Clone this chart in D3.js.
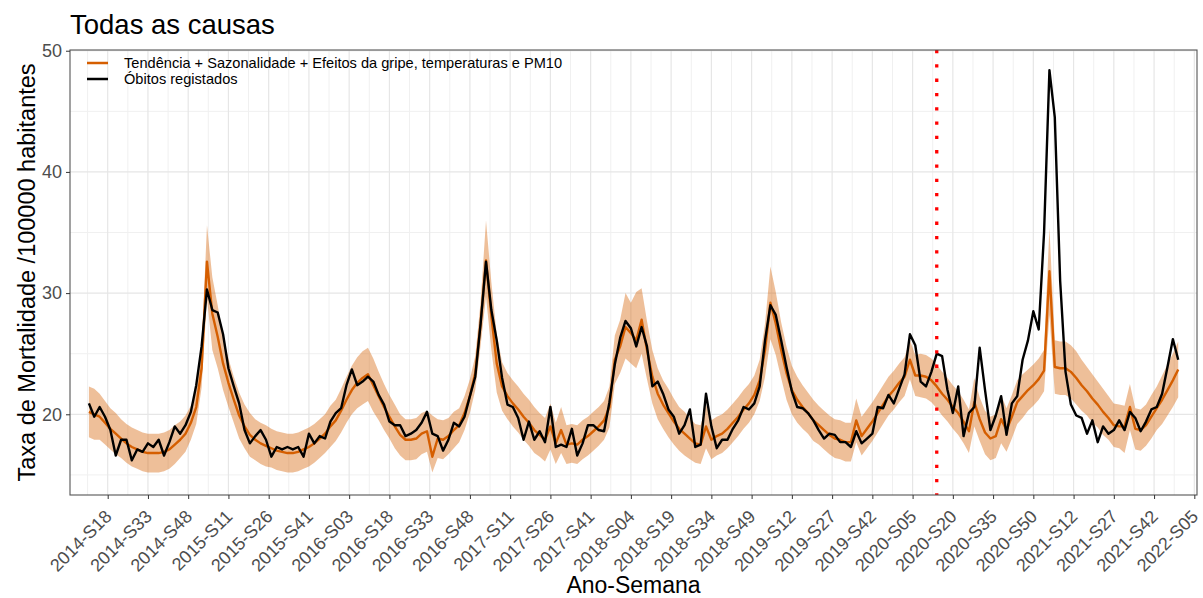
<!DOCTYPE html>
<html>
<head>
<meta charset="utf-8">
<script src="https://cdn.jsdelivr.net/npm/d3@7"></script>
<style>
  body { margin: 0; background: #fff; }
  text { font-family: "Liberation Sans", Arial, sans-serif; }
</style>
</head>
<body>
<svg id="chart" width="1203" height="598"></svg>
<script>
// x tick labels, one every 15 weeks (week index 0 = 2014-S18)
const tickLabels = ["2014-S18","2014-S33","2014-S48","2015-S11","2015-S26","2015-S41","2016-S03",
  "2016-S18","2016-S33","2016-S48","2017-S11","2017-S26","2017-S41","2018-S04","2018-S19","2018-S34",
  "2018-S49","2019-S12","2019-S27","2019-S42","2020-S05","2020-S20","2020-S35","2020-S50","2021-S12",
  "2021-S27","2021-S42","2022-S05"];
const tickEvery = 15;

// series sampled every 2 weeks, starting 7 weeks before 2014-S18
const firstWeek = -7, weekStep = 2;

const observed = [
  20.9,19.8,20.6,19.8,18.7,16.6,17.9,17.9,16.2,17.1,
  16.9,17.6,17.3,17.9,16.6,17.7,19.0,18.4,19.1,20.2,
  22.4,25.6,30.3,28.6,28.4,26.6,23.8,22.3,20.9,18.7,
  17.6,18.2,18.7,17.9,16.5,17.3,17.1,17.3,17.1,17.3,
  16.5,18.4,17.6,18.2,18.0,19.4,20.1,20.5,22.4,23.7,
  22.4,22.7,23.1,22.7,21.6,20.8,19.4,19.1,19.1,18.2,
  18.4,18.7,19.3,20.2,18.4,18.2,17.0,17.9,19.3,19.0,
  19.8,21.5,23.1,27.5,32.6,28.6,26.1,23.0,20.8,20.6,
  19.7,17.9,19.4,17.9,18.6,17.7,20.6,17.3,17.5,17.3,
  18.8,16.6,17.6,19.1,19.1,18.7,18.6,21.0,24.1,26.3,
  27.7,27.1,25.6,27.2,25.6,22.3,22.7,21.7,20.4,19.8,
  18.4,19.1,20.4,17.3,17.5,21.7,19.0,17.2,17.9,17.9,
  18.8,19.5,20.6,20.4,20.9,22.3,26.1,29.0,28.2,26.1,
  23.9,21.9,20.6,20.5,20.1,19.5,18.7,18.0,18.4,18.3,
  17.7,17.7,17.3,18.6,17.6,18.0,18.4,20.6,20.5,21.6,
  20.9,22.1,23.3,26.6,25.7,22.7,22.3,23.5,25.0,24.8,
  22.0,20.1,22.3,18.2,20.1,20.6,25.5,22.0,18.7,19.9,
  21.5,18.3,20.9,21.5,24.5,26.1,28.5,27.0,35.0,48.4,
  44.5,31.0,23.5,20.8,19.9,19.7,18.4,19.5,17.7,19.0,
  18.4,18.7,19.5,18.7,20.2,19.7,18.6,19.4,20.4,20.6,
  21.7,23.9,26.2,24.5
];

const fitted = [
  20.2,20.0,19.8,19.3,18.8,18.4,18.0,17.6,17.3,17.1,
  16.9,16.8,16.8,16.8,16.9,17.1,17.5,17.9,18.4,19.3,
  20.6,23.8,32.6,28.3,26.4,24.2,22.6,21.2,19.9,19.0,
  18.3,17.9,17.6,17.4,17.2,17.0,16.9,16.8,16.8,16.9,
  17.1,17.3,17.6,18.0,18.4,19.0,19.5,20.3,21.2,22.0,
  22.6,23.0,23.3,22.4,21.5,20.6,19.8,19.0,18.3,17.9,
  17.9,18.0,18.4,18.6,16.5,18.0,17.9,18.2,18.7,19.1,
  20.1,21.5,23.4,27.5,32.7,28.1,24.2,22.3,21.5,20.9,
  20.4,19.8,19.3,18.7,18.3,17.9,19.0,17.6,18.7,17.5,
  17.6,17.5,17.9,18.2,18.6,19.0,19.5,20.6,24.5,25.6,
  27.2,26.7,26.1,27.8,25.3,23.1,21.7,20.8,20.1,19.4,
  18.8,18.4,18.0,17.6,17.5,19.0,17.9,18.2,18.4,18.8,
  19.3,19.8,20.4,20.9,21.6,22.8,25.3,29.2,27.5,25.3,
  23.4,22.0,21.2,20.6,20.1,19.5,19.1,18.7,18.3,18.0,
  17.9,17.7,17.7,19.5,18.2,18.8,19.4,20.1,20.8,21.5,
  22.0,22.6,23.1,24.5,23.2,23.2,23.1,22.8,22.3,21.7,
  21.2,20.6,20.1,19.4,18.6,21.0,19.6,18.5,18.0,18.2,
  19.6,18.7,19.8,21.0,21.5,22.0,22.4,22.9,23.6,31.8,
  23.9,23.8,23.8,23.5,23.0,22.4,21.9,21.3,20.8,20.2,
  19.7,19.1,19.0,19.0,20.6,18.8,18.7,19.1,19.8,20.5,
  21.2,22.0,22.8,23.7
];

const bandLow = [
  18.1,17.9,17.9,17.5,17.1,16.7,16.4,16.0,15.7,15.5,
  15.3,15.2,15.2,15.2,15.3,15.5,15.9,16.4,16.9,17.9,
  19.2,22.2,29.6,25.3,23.8,22.0,20.6,19.3,18.0,17.2,
  16.5,16.2,15.9,15.7,15.6,15.4,15.3,15.2,15.2,15.3,
  15.5,15.7,16.0,16.4,16.8,17.3,17.8,18.5,19.3,20.0,
  20.5,20.8,21.1,20.2,19.5,18.7,18.0,17.2,16.6,16.2,
  16.2,16.3,16.7,16.9,15.2,16.4,16.3,16.7,17.2,17.7,
  18.7,20.1,22.0,25.7,29.7,25.3,21.8,20.3,19.6,19.0,
  18.5,17.9,17.4,16.8,16.5,16.1,17.1,15.9,16.8,15.9,
  16.0,15.9,16.3,16.6,17.0,17.4,17.9,18.9,22.5,23.4,
  24.6,24.2,23.8,25.0,22.9,20.9,19.6,18.8,18.1,17.5,
  17.0,16.6,16.3,16.0,15.9,17.2,16.3,16.6,16.8,17.2,
  17.7,18.2,18.8,19.3,20.0,21.1,23.1,26.2,24.9,23.0,
  21.2,20.0,19.3,18.8,18.4,17.8,17.5,17.1,16.7,16.4,
  16.3,16.1,16.1,17.7,16.6,17.2,17.8,18.5,19.2,19.9,
  20.4,21.0,21.5,22.9,21.5,21.4,21.3,21.0,20.5,19.9,
  19.4,18.8,18.3,17.6,16.8,19.0,17.8,16.7,16.2,16.4,
  17.6,16.9,18.0,19.2,19.7,20.3,20.7,21.2,21.9,28.2,
  21.7,21.6,21.6,21.3,20.8,20.3,19.9,19.3,18.9,18.3,
  17.9,17.3,17.2,16.8,18.7,17.1,17.0,17.4,18.0,18.7,
  19.2,19.9,20.6,21.4
];

const bandHigh = [
  22.3,22.1,21.7,21.1,20.5,20.1,19.6,19.2,18.9,18.7,
  18.5,18.4,18.4,18.4,18.5,18.7,19.1,19.4,19.9,20.7,
  22.0,25.4,35.6,31.3,29.0,26.4,24.6,23.1,21.8,20.8,
  20.1,19.6,19.3,19.1,18.8,18.6,18.5,18.4,18.4,18.5,
  18.7,18.9,19.2,19.6,20.0,20.7,21.2,22.1,23.1,24.0,
  24.7,25.2,25.5,24.6,23.5,22.5,21.6,20.8,20.0,19.6,
  19.6,19.7,20.1,20.3,19.9,19.6,19.5,19.7,20.2,20.5,
  21.5,22.9,24.8,29.3,36.0,30.9,26.6,24.3,23.4,22.8,
  22.3,21.7,21.2,20.6,20.1,19.7,20.9,19.3,20.6,19.1,
  19.2,19.1,19.5,19.8,20.2,20.6,21.1,22.3,26.5,27.8,
  30.0,29.2,30.1,30.4,27.7,25.3,23.8,22.8,22.1,21.3,
  20.6,20.2,19.7,19.2,19.1,20.8,19.5,19.8,20.0,20.4,
  20.9,21.4,22.0,22.5,23.2,24.5,27.5,32.2,30.1,27.6,
  25.6,24.0,23.1,22.4,21.8,21.2,20.7,20.3,19.9,19.6,
  19.5,19.3,19.3,21.3,19.8,20.4,21.0,21.7,22.4,23.1,
  23.6,24.2,24.7,26.1,24.9,25.0,24.9,24.6,24.1,23.5,
  23.0,22.4,21.9,21.2,20.4,23.0,21.4,20.3,19.8,20.0,
  21.6,20.5,21.6,22.8,23.3,23.7,24.1,24.6,25.3,35.4,
  26.1,26.0,26.0,25.7,25.2,24.5,23.9,23.3,22.7,22.1,
  21.5,20.9,20.8,20.7,22.5,20.5,20.4,20.8,21.6,22.3,
  23.2,24.1,25.0,26.0
];

const covidWeek = 309; // 2020-S15, red dotted marker
const yTicks = [20, 30, 40, 50];
const yMinor = [15, 25, 35, 45];
const legendNames = ["Tendência + Sazonalidade + Efeitos da gripe, temperaturas e PM10", "Óbitos registados"];
const colors = {fit: "#D55E00", obs: "#000000", marker: "#FF0000"};

const svg = d3.select("#chart");
const panel = {left: 70, right: 1197, top: 50, bottom: 495};

const x = d3.scaleLinear().domain([-14.05, 406]).range([panel.left, panel.right]);
const y = d3.scaleLinear().domain([13.34, 50.06]).range([panel.bottom, panel.top]);

const rows = observed.map((v, i) => ({
  w: firstWeek + i * weekStep, obs: v, fit: fitted[i], lo: bandLow[i], hi: bandHigh[i]
}));

// grid
const majorX = tickLabels.map((d, i) => i * tickEvery);
const minorX = majorX.map(w => w - tickEvery / 2);
const grid = svg.append("g");
grid.selectAll(".minx").data(minorX).join("line")
  .attr("x1", d => x(d)).attr("x2", d => x(d))
  .attr("y1", panel.top).attr("y2", panel.bottom)
  .attr("stroke", "#f0f0f0").attr("stroke-width", 1);
grid.selectAll(".miny").data(yMinor).join("line")
  .attr("x1", panel.left).attr("x2", panel.right)
  .attr("y1", d => y(d)).attr("y2", d => y(d))
  .attr("stroke", "#f0f0f0").attr("stroke-width", 1);
grid.selectAll(".majx").data(majorX).join("line")
  .attr("x1", d => x(d)).attr("x2", d => x(d))
  .attr("y1", panel.top).attr("y2", panel.bottom)
  .attr("stroke", "#e6e6e6").attr("stroke-width", 1.2);
grid.selectAll(".majy").data(yTicks).join("line")
  .attr("x1", panel.left).attr("x2", panel.right)
  .attr("y1", d => y(d)).attr("y2", d => y(d))
  .attr("stroke", "#e6e6e6").attr("stroke-width", 1.2);

// ribbon + lines
const area = d3.area().x(d => x(d.w)).y0(d => y(d.lo)).y1(d => y(d.hi));
svg.append("path").datum(rows)
  .attr("d", area)
  .attr("fill", colors.fit).attr("opacity", 0.4);

const fitLine = d3.line().x(d => x(d.w)).y(d => y(d.fit));
svg.append("path").datum(rows)
  .attr("d", fitLine)
  .attr("fill", "none").attr("stroke", colors.fit)
  .attr("stroke-width", 2.4).attr("stroke-linejoin", "round");

const obsLine = d3.line().x(d => x(d.w)).y(d => y(d.obs));
svg.append("path").datum(rows)
  .attr("d", obsLine)
  .attr("fill", "none").attr("stroke", colors.obs)
  .attr("stroke-width", 2.4).attr("stroke-linejoin", "round");

// marker line
svg.append("line")
  .attr("x1", x(covidWeek)).attr("x2", x(covidWeek))
  .attr("y1", panel.top).attr("y2", panel.bottom)
  .attr("stroke", colors.marker).attr("stroke-width", 3.3)
  .attr("stroke-dasharray", "3.3,11");

// panel border
svg.append("rect")
  .attr("x", panel.left).attr("y", panel.top)
  .attr("width", panel.right - panel.left).attr("height", panel.bottom - panel.top)
  .attr("fill", "none").attr("stroke", "#555").attr("stroke-width", 1.1);

// axes
const yAxis = svg.append("g")
  .attr("transform", `translate(${panel.left},0)`)
  .call(d3.axisLeft(y).tickValues(yTicks).tickSize(4).tickPadding(4));
yAxis.select(".domain").remove();
yAxis.selectAll("line").attr("stroke", "#333");
yAxis.selectAll("text").attr("fill", "#4d4d4d").style("font-size", "18px")
  .style("font-family", "Liberation Sans, Arial, sans-serif");

const xAxis = svg.append("g")
  .attr("transform", `translate(0,${panel.bottom})`)
  .call(d3.axisBottom(x).tickValues(majorX).tickSize(4).tickFormat((d, i) => tickLabels[i]));
xAxis.select(".domain").remove();
xAxis.selectAll("line").attr("stroke", "#333");
xAxis.selectAll("text")
  .attr("fill", "#4d4d4d").style("font-size", "18px")
  .style("font-family", "Liberation Sans, Arial, sans-serif")
  .attr("text-anchor", "end")
  .attr("y", 0).attr("dy", "0.75em")
  .attr("transform", "translate(-5,13) rotate(-45)");

// titles
svg.append("text")
  .attr("x", 70).attr("y", 34)
  .style("font-size", "27.5px").attr("fill", "#000")
  .text("Todas as causas");

svg.append("text")
  .attr("x", (panel.left + panel.right) / 2).attr("y", 593)
  .attr("text-anchor", "middle")
  .style("font-size", "23px").attr("fill", "#000")
  .text("Ano-Semana");

svg.append("text")
  .attr("transform", `translate(35,${(panel.top + panel.bottom) / 2}) rotate(-90)`)
  .attr("text-anchor", "middle")
  .style("font-size", "23.5px").attr("fill", "#000")
  .text("Taxa de Mortalidade /100000 habitantes");

// legend
const legend = svg.append("g").attr("transform", "translate(87,63)");
const keys = [colors.fit, colors.obs];
keys.forEach((c, i) => {
  legend.append("line")
    .attr("x1", 0).attr("x2", 21)
    .attr("y1", i * 16).attr("y2", i * 16)
    .attr("stroke", c).attr("stroke-width", 2.5);
  legend.append("text")
    .attr("x", 37).attr("y", i * 16).attr("dy", "0.35em")
    .style("font-size", "14.6px").attr("fill", "#000")
    .text(legendNames[i]);
});
</script>
</body>
</html>
